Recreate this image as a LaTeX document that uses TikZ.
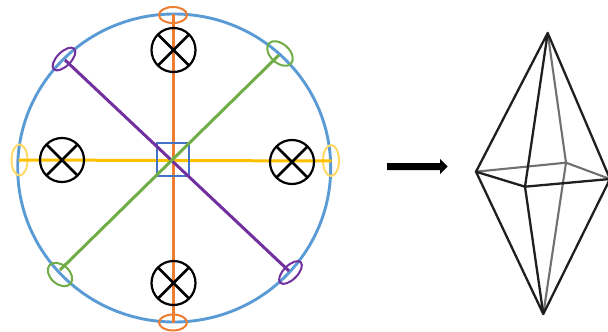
\documentclass[tikz,border=0pt]{standalone}
\usetikzlibrary{shapes.geometric}
\definecolor{cblue}{HTML}{5B9BD5}
\definecolor{corange}{HTML}{ED7D31}
\definecolor{cyellow}{HTML}{FFC000}
\definecolor{clyellow}{HTML}{FFD966}
\definecolor{cgreen}{HTML}{70AD47}
\definecolor{cpurple}{HTML}{7030A0}
\definecolor{csquare}{HTML}{4472C4}
\definecolor{cgrey}{HTML}{707070}
\tikzset{
  x=1pt,y=-1pt,
  loop/.style={ellipse,draw,line width=2pt,inner sep=0pt,outer sep=0pt},
  spoke/.style={line width=3pt},
  ring/.style={circle,draw=black,line width=2.2pt,fill=none,minimum size=44pt,inner sep=0pt,outer sep=0pt},
  crossline/.style={line width=2.8pt,black},
  edgefront/.style={line width=2.3pt,black!88,line join=round,line cap=round},
  edgeback/.style={line width=2.1pt,cgrey,line join=round,line cap=round},
}
\newcommand{\crossin}[1]{\draw[crossline] (#1.45) -- (#1.225) (#1.135) -- (#1.315);}
\begin{document}
\begin{tikzpicture}
\useasboundingbox (0,0) rectangle (608,332);
\clip (0,0) rectangle (608,332);
% outer ring
\node[ellipse,draw=cblue,line width=2.9pt,minimum width=313pt,minimum height=308pt,inner sep=0pt,outer sep=0pt] (outer) at (174.2,168) {};
% end loops
\node[loop,draw=corange,minimum width=28pt,minimum height=16pt] (ot) at (173,15) {};
\node[loop,draw=corange,minimum width=28pt,minimum height=16pt] (ob) at (173,322.5) {};
\node[loop,draw=clyellow,minimum width=16pt,minimum height=31pt] (yl) at (19.5,160) {};
\node[loop,draw=clyellow,minimum width=16pt,minimum height=31pt] (yr) at (331,160.5) {};
\node[loop,draw=cgreen,minimum width=30pt,minimum height=19pt,rotate=-42] (gt) at (280,53.5) {};
\node[loop,draw=cgreen,minimum width=28pt,minimum height=19pt,rotate=-42] (gb) at (60,274.5) {};
\node[loop,draw=cpurple,minimum width=29pt,minimum height=14pt,rotate=45] (pt) at (64,59) {};
\node[loop,draw=cpurple,minimum width=29pt,minimum height=14pt,rotate=45] (pb) at (290.5,272.5) {};
% helper end points of the spokes
\coordinate (otend) at (173,13.5);
\coordinate (obend) at (173,323);
\coordinate (ylend) at (18.5,160);
\coordinate (yrend) at (331.5,161);
\coordinate (gtend) at (279,55);
\coordinate (gbend) at (60,270);
\coordinate (ptend) at (65,60);
\coordinate (pbend) at (289,271);
% spokes and centre square, stacked as in the reference
\draw[spoke,corange] (otend) -- (obend);
\draw[spoke,cyellow] (ylend) -- (yrend);
\node[draw=csquare,line width=2pt,minimum width=32pt,minimum height=32.5pt,inner sep=0pt,outer sep=0pt] (hub) at (173.3,159.5) {};
\draw[spoke,cpurple] (ptend) -- (pbend);
\draw[spoke,cgreen] (gtend) -- (gbend);
% crossed rings
\node[ring] (r1) at (173.5,50) {};
\node[ring] (r2) at (173.5,283) {};
\node[ring] (r3) at (62,160) {};
\node[ring] (r4) at (292,162) {};
\crossin{r1}\crossin{r2}\crossin{r3}\crossin{r4}
% arrow
\fill[black] (387,163) -- (440,163) -- (440,159) -- (447.5,166.5) -- (440,174) -- (440,170) -- (387,170) -- cycle;
% polyhedron
\coordinate (ptop) at (547.7,33);
\coordinate (pleft) at (476,171.7);
\coordinate (pfront) at (525,186.7);
\coordinate (pright) at (610,179);
\coordinate (pback) at (566,162.7);
\coordinate (pbot) at (543.3,314);
\draw[edgeback] (ptop) -- (pback) (pback) -- (pbot) (pleft) -- (pback) (pback) -- (pright);
\draw[edgefront] (ptop) -- (pleft) (ptop) -- (pfront) (ptop) -- (pright)
  (pbot) -- (pleft) (pbot) -- (pfront) (pbot) -- (pright)
  (pleft) -- (pfront) (pfront) -- (pright);
\end{tikzpicture}
\end{document}
